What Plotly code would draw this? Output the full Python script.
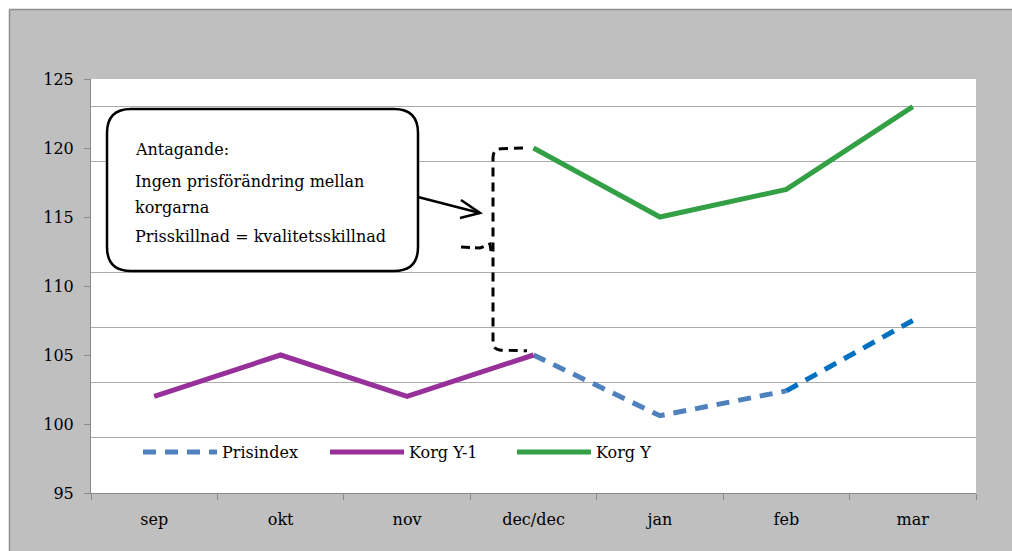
import plotly.graph_objects as go

# ---------------- data ----------------
months = ["sep", "okt", "nov", "dec/dec", "jan", "feb", "mar"]

korg_y1_months = months[0:4]
korg_y1 = [102, 105, 102, 105]

korg_y_months = months[3:7]
korg_y = [120, 115, 117, 123]

prisindex_months = months[3:6]
prisindex = [105, 100.6, 102.4]

prisindex_tail_months = months[5:7]
prisindex_tail = [102.4, 107.5]

callout_lines = [
    "Antagande:",
    "Ingen prisförändring mellan",
    "korgarna",
    "Prisskillnad = kvalitetsskillnad",
]

# ---------------- layout geometry (pixels) ----------------
W, H = 1012, 551
L, R, T, B = 91, 976, 79, 493
PW, PH = R - L, B - T
FONT = "DejaVu Serif"


def px(x):
    return (x - L) / PW


def py(y):
    return (B - y) / PH


fig = go.Figure()

fig.add_trace(go.Scatter(
    x=prisindex_months, y=prisindex, name="Prisindex", mode="lines",
    line=dict(color="#4F81BD", width=5, dash="13px,9px"),
))
fig.add_trace(go.Scatter(
    x=prisindex_tail_months, y=prisindex_tail, name="Prisindex", mode="lines",
    line=dict(color="#0070C0", width=5, dash="13px,9px"), showlegend=False,
))
fig.add_trace(go.Scatter(
    x=korg_y1_months, y=korg_y1, name="Korg Y-1", mode="lines",
    line=dict(color="#973199", width=5),
))
fig.add_trace(go.Scatter(
    x=korg_y_months, y=korg_y, name="Korg Y", mode="lines",
    line=dict(color="#33A046", width=5),
))

shapes = []
# white frame strips + border line around gray background
shapes.append(dict(type="rect", xref="paper", yref="paper", x0=px(-5), x1=px(9),
                   y0=py(H + 5), y1=py(-5), fillcolor="white", line=dict(width=0), layer="above"))
shapes.append(dict(type="rect", xref="paper", yref="paper", x0=px(-5), x1=px(W + 5),
                   y0=py(9), y1=py(-5), fillcolor="white", line=dict(width=0), layer="above"))
shapes.append(dict(type="line", xref="paper", yref="paper", x0=px(9.5), x1=px(9.5),
                   y0=py(9.5), y1=py(H + 5), line=dict(color="#8E8E8E", width=1.5), layer="above"))
shapes.append(dict(type="line", xref="paper", yref="paper", x0=px(9.5), x1=px(W + 5),
                   y0=py(9.5), y1=py(9.5), line=dict(color="#8E8E8E", width=1.5), layer="above"))


# rounded callout box
def rrect(x0, y0, x1, y1, r):
    pts = [
        f"M{px(x0 + r)},{py(y0)}",
        f"L{px(x1 - r)},{py(y0)}",
        f"Q{px(x1)},{py(y0)} {px(x1)},{py(y0 + r)}",
        f"L{px(x1)},{py(y1 - r)}",
        f"Q{px(x1)},{py(y1)} {px(x1 - r)},{py(y1)}",
        f"L{px(x0 + r)},{py(y1)}",
        f"Q{px(x0)},{py(y1)} {px(x0)},{py(y1 - r)}",
        f"L{px(x0)},{py(y0 + r)}",
        f"Q{px(x0)},{py(y0)} {px(x0 + r)},{py(y0)}",
        "Z",
    ]
    return " ".join(pts)


shapes.append(dict(type="path", xref="paper", yref="paper",
                   path=rrect(107, 109, 418, 271, 24),
                   fillcolor="white", line=dict(color="black", width=2.5), layer="above"))

# arrow from callout
shapes.append(dict(type="path", xref="paper", yref="paper",
                   path=f"M{px(418)},{py(197)} L{px(480)},{py(213)}",
                   line=dict(color="black", width=2.5), layer="above"))
shapes.append(dict(type="path", xref="paper", yref="paper",
                   path=f"M{px(461)},{py(200)} L{px(480)},{py(213)} L{px(460)},{py(218)}",
                   line=dict(color="black", width=2.5), layer="above"))

# dashed bracket between the two baskets (y in data units)
top = korg_y[0]
bot = korg_y1[-1]
bx = 493
bracket = (f"M{px(523)},{top} L{px(501)},{top - 0.05} "
           f"Q{px(bx)},{top - 0.1} {px(bx)},{top - 0.7} "
           f"L{px(bx)},{bot + 0.9} "
           f"Q{px(bx)},{bot + 0.4} {px(501)},{bot + 0.35} "
           f"L{px(527)},{bot + 0.3}")
shapes.append(dict(type="path", xref="paper", yref="y", path=bracket,
                   line=dict(color="black", width=3, dash="9px,6px"), layer="above"))
# small dashed stub with kink
shapes.append(dict(type="path", xref="paper", yref="paper",
                   path=f"M{px(461)},{py(247)} L{px(480)},{py(248)} L{px(490)},{py(244)} L{px(491)},{py(251)}",
                   line=dict(color="black", width=3, dash="9px,5px"), layer="above"))

annotations = []
text_rows = [149, 181, 207, 236]
for txt, yy in zip(callout_lines, text_rows):
    annotations.append(dict(text=txt, xref="paper", yref="paper", x=px(133), y=py(yy),
                            xanchor="left", yanchor="middle", showarrow=False,
                            font=dict(family=FONT, size=16, color="black")))

fig.update_layout(
    width=W, height=H,
    margin=dict(l=L, r=W - R, t=T, b=H - B, pad=0),
    paper_bgcolor="#BFBFBF",
    plot_bgcolor="white",
    font=dict(family=FONT, size=16, color="black"),
    shapes=shapes,
    annotations=annotations,
    legend=dict(
        orientation="h", x=px(138), xanchor="left", y=py(452), yanchor="middle",
        bgcolor="rgba(0,0,0,0)", font=dict(family=FONT, size=16, color="black"),
        itemwidth=74, entrywidth=98, entrywidthmode="pixels", traceorder="normal",
    ),
    xaxis=dict(
        type="category", categoryorder="array", categoryarray=months,
        range=[-0.5, 6.5], tickson="boundaries", ticks="outside", ticklen=6,
        tickcolor="#898989", showline=True, linecolor="#898989", linewidth=1,
        showgrid=False, zeroline=False, fixedrange=True, ticklabelstandoff=12,
        tickfont=dict(family=FONT, size=16, color="black"),
    ),
    yaxis=dict(
        range=[95, 125], tickmode="linear", tick0=95, dtick=5,
        ticks="outside", ticklen=6, tickcolor="#898989",
        showline=True, linecolor="#898989", linewidth=1,
        showgrid=False, zeroline=False, fixedrange=True, ticklabelstandoff=7,
        tickfont=dict(family=FONT, size=16, color="black"),
        minor=dict(tickmode="linear", tick0=99, dtick=4, showgrid=True,
                   gridcolor="#ABABAB", gridwidth=1, ticks=""),
    ),
)

fig.write_html("out.html", config={"displayModeBar": False, "responsive": False})
